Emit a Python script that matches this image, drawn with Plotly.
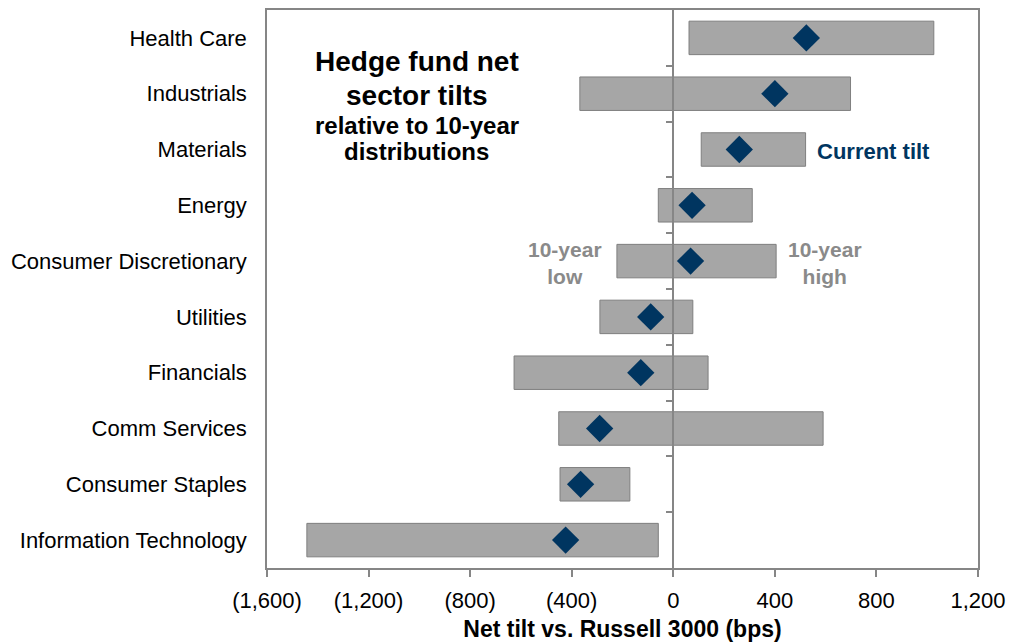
import plotly.graph_objects as go

# sectors, top to bottom
sectors = ["Health Care", "Industrials", "Materials", "Energy", "Consumer Discretionary",
           "Utilities", "Financials", "Comm Services", "Consumer Staples", "Information Technology"]

# 10-year low / high and current net tilt (bps)
low_10y = [62, -368, 110, -59, -222, -289, -627, -451, -446, -1443]
high_10y = [1026, 698, 521, 311, 405, 77, 137, 590, -171, -59]
current_tilt = [524, 400, 260, 74, 68, -89, -128, -290, -365, -424]

x_ticks = [-1600, -1200, -800, -400, 0, 400, 800, 1200]
x_ticktext = [f"({abs(v):,})" if v < 0 else f"{v:,}" for v in x_ticks]

FONT = "Liberation Sans, Arial, sans-serif"
GRAY_LINE = "#868686"
NAVY = "#003560"
LABEL_GRAY = "#8a8a8a"

fig = go.Figure()

fig.add_trace(go.Bar(
    y=sectors,
    base=low_10y,
    x=[h - l for h, l in zip(high_10y, low_10y)],
    orientation="h",
    width=0.6,
    marker=dict(color="#a6a6a6", line=dict(color="#7f7f7f", width=1)),
    hoverinfo="skip",
    showlegend=False,
))

fig.add_trace(go.Scatter(
    y=sectors,
    x=current_tilt,
    mode="markers",
    marker=dict(symbol="diamond", size=21, color=NAVY),
    showlegend=False,
))

xmin, xmax = x_ticks[0], x_ticks[-1]

# page body has an 8px margin, so margins are shifted to compensate
fig.update_layout(
    width=1015, height=644,
    margin=dict(l=259, r=45, t=2, b=84),
    paper_bgcolor="white",
    plot_bgcolor="white",
    font=dict(family=FONT, color="black"),
    xaxis=dict(
        range=[xmin, xmax],
        tickvals=x_ticks,
        ticktext=x_ticktext,
        tickfont=dict(size=22),
        ticks="outside", ticklen=7, tickcolor=GRAY_LINE, tickwidth=1.5,
        ticklabelstandoff=5,
        showgrid=False, zeroline=False, automargin=False,
        showline=True, linecolor=GRAY_LINE, linewidth=1.5, mirror=True,
        title=dict(text="<b>Net tilt vs. Russell 3000 (bps)</b>", font=dict(size=23), standoff=9),
    ),
    yaxis=dict(
        type="category",
        categoryorder="array", categoryarray=sectors,
        range=[len(sectors) - 0.5, -0.5],
        tickfont=dict(size=22),
        ticks="", ticklabelstandoff=14, automargin=False,
        showgrid=False, zeroline=False,
        showline=True, linecolor=GRAY_LINE, linewidth=1.5, mirror=True,
    ),
    # vertical axis crossing at zero, with ticks between categories
    yaxis2=dict(
        overlaying="y", anchor="free",
        position=(0 - xmin) / (xmax - xmin),
        type="linear",
        range=[len(sectors) - 0.5, -0.5],
        tickvals=[i + 0.5 for i in range(len(sectors) - 1)],
        showticklabels=False, automargin=False,
        ticks="outside", ticklen=7, tickcolor=GRAY_LINE, tickwidth=1.5,
        showline=True, linecolor=GRAY_LINE, linewidth=1.5,
        showgrid=False, zeroline=False,
    ),
)

# invisible trace so yaxis2 is drawn
fig.add_trace(go.Scatter(x=[None], y=[None], yaxis="y2", showlegend=False, hoverinfo="skip"))


def paper_y(py):
    return (568 - py) / 558


title_lines = [
    ("Hedge fund net", 28, 62),
    ("sector tilts", 28, 95),
    ("relative to 10-year", 24, 126),
    ("distributions", 24, 152),
]
for text, size, py in title_lines:
    fig.add_annotation(x=-1010, xref="x", y=paper_y(py), yref="paper",
                       text=f"<b>{text}</b>", showarrow=False,
                       font=dict(size=size, color="black"), xanchor="center", yanchor="middle")

fig.add_annotation(x=-427, xref="x", y=paper_y(263), yref="paper",
                   text="<b>10-year<br>low</b>", showarrow=False,
                   font=dict(size=21, color=LABEL_GRAY), xanchor="center", yanchor="middle")
fig.add_annotation(x=597, xref="x", y=paper_y(263), yref="paper",
                   text="<b>10-year<br>high</b>", showarrow=False,
                   font=dict(size=21, color=LABEL_GRAY), xanchor="center", yanchor="middle")
fig.add_annotation(x=789, xref="x", y=paper_y(151), yref="paper",
                   text="<b>Current tilt</b>", showarrow=False,
                   font=dict(size=22, color=NAVY), xanchor="center", yanchor="middle")

fig.write_html("out.html")
